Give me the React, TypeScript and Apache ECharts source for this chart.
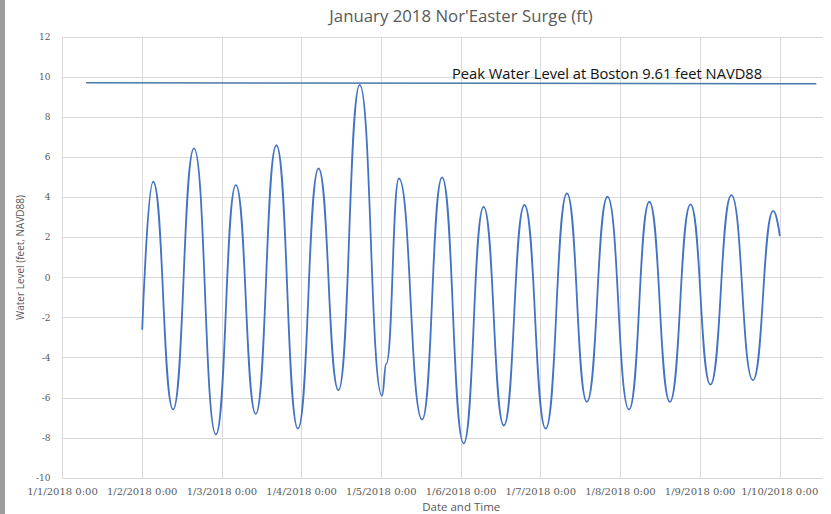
import React, { useEffect, useRef } from "react";
import * as echarts from "echarts";

// Hours since 1/1/2018 0:00 and water level (ft, NAVD88) at each turning point of the tide
const tideHours = [
  24, 27.3, 33.3, 39.6, 46.2, 52.2, 58.2, 64.4, 70.9, 77.1, 83.1, 89.5, 96.2, 97.5,
  101.3, 108.3, 114.3, 120.8, 126.8, 132.9, 139.1, 145.5, 151.9, 157.9, 164.1,
  170.6, 176.7, 182.9, 189.1, 195.1, 201.4, 207.9, 214.0, 216,
];
const tideLevels = [
  -2.6, 4.78, -6.58, 6.44, -7.83, 4.61, -6.8, 6.6, -7.54, 5.44, -5.62, 9.61, -5.89, -4.3,
  4.94, -7.08, 4.99, -8.27, 3.53, -7.38, 3.62, -7.54, 4.2, -6.2, 4.03,
  -6.58, 3.78, -6.2, 3.65, -5.34, 4.11, -5.12, 3.33, 2.07,
];

// Hand-drawn peak reference line
const peakLineHours = [7.1, 227];
const peakLineLevels = [9.72, 9.67];

const titleText = "January 2018 Nor'Easter Surge (ft)";
const peakText = "Peak Water Level at Boston 9.61 feet NAVD88";
const yAxisTitle = "Water Level (feet, NAVD88)";
const xAxisTitle = "Date and Time";

const xMin = 0;
const xMax = 229;
const xStep = 24;
const yMin = -10;
const yMax = 12;
const yStep = 2;

export default function App() {
  const ref = useRef<HTMLDivElement>(null);
  useEffect(() => {
    if (!ref.current) return;
    const chart = echarts.init(ref.current, undefined, { renderer: "svg" });
    const tideData = tideHours.map((h, i) => [h, tideLevels[i]]);
    const peakData = peakLineHours.map((h, i) => [h, peakLineLevels[i]]);
    chart.setOption({
      animation: false,
      backgroundColor: "#ffffff",
      title: {
        text: titleText,
        left: 456,
        top: 2,
        textAlign: "center",
        textStyle: {
          fontFamily: "Open Sans",
          fontSize: 16.8,
          fontWeight: "normal",
          color: "#595959",
        },
      },
      grid: {
        left: 62.5,
        right: 8,
        top: 37,
        bottom: 36,
        containLabel: false,
        outerBoundsMode: "none",
      },
      xAxis: {
        type: "value",
        min: xMin,
        max: xMax,
        interval: xStep,
        name: xAxisTitle,
        nameLocation: "middle",
        nameGap: 21,
        nameTextStyle: {
          fontFamily: "Open Sans",
          fontSize: 11.5,
          color: "#595959",
          padding: [0, 0, 0, 37],
        },
        axisLine: { show: true, lineStyle: { color: "#d9d9d9", width: 1 } },
        axisTick: { show: false },
        axisLabel: {
          margin: 8,
          fontFamily: "DejaVu Serif",
          fontSize: 10,
          color: "#595959",
          showMaxLabel: false,
          formatter: (v: number) => {
            if (v % 24 !== 0) return "";
            return `1/${1 + v / 24}/2018 0:00`;
          },
        },
        splitLine: {
          show: true,
          showMaxLine: false,
          lineStyle: { color: "#d9d9d9", width: 1 },
        },
      },
      yAxis: {
        type: "value",
        min: yMin,
        max: yMax,
        interval: yStep,
        name: yAxisTitle,
        nameLocation: "middle",
        nameGap: 28,
        nameTextStyle: {
          fontFamily: "Open Sans",
          fontSize: 10,
          color: "#595959",
        },
        axisLine: { show: false },
        axisTick: { show: false },
        axisLabel: {
          margin: 12,
          fontFamily: "DejaVu Serif",
          fontSize: 9,
          color: "#595959",
        },
        splitLine: { show: true, lineStyle: { color: "#d9d9d9", width: 1 } },
      },
      series: [
        {
          type: "line",
          name: "Water Level",
          data: tideData,
          smooth: 0.5,
          smoothMonotone: "x",
          showSymbol: false,
          lineStyle: { color: "#4472c4", width: 1.8 },
        },
        {
          type: "line",
          name: "Peak",
          data: peakData,
          showSymbol: false,
          lineStyle: { color: "#4a78a8", width: 1.5 },
        },
      ],
      graphic: [
        {
          type: "rect",
          left: 0,
          top: 0,
          shape: { width: 5, height: 514 },
          style: { fill: "#9c9c9c" },
          silent: true,
        },
        {
          type: "text",
          x: 452,
          y: 73,
          style: {
            text: peakText,
            fontFamily: "Open Sans",
            fontSize: 14.7,
            fill: "#111111",
            textAlign: "left",
            textVerticalAlign: "middle",
          },
          z: 10,
        },
      ],
    });
    return () => chart.dispose();
  }, []);
  return (
    <div
      ref={ref}
      style={{ position: "fixed", left: 0, top: 0, width: 831, height: 514 }}
    />
  );
}
